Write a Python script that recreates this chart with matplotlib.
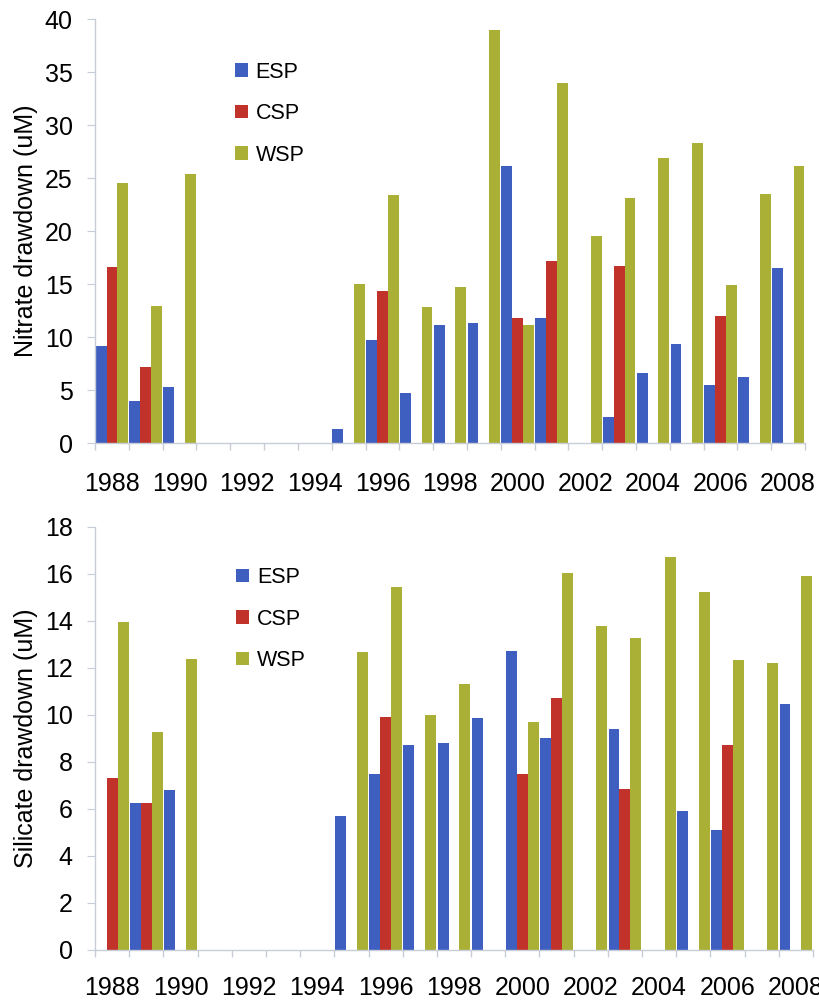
"""Nitrate and silicate drawdown by region, 1988-2008 (grouped bars)."""
import matplotlib
matplotlib.use("Agg")
import matplotlib.pyplot as plt
import numpy as np

years = list(range(1988, 2009))
series_names = ["ESP", "CSP", "WSP"]
colors = ["#3f5fc0", "#c0322a", "#aab036"]

# nan = no bar for that year
nan = np.nan
nitrate_esp = [9.2, 4.0, 5.3, nan, nan, nan, nan, 1.3, 9.7, 4.7, 11.1, 11.3,
               26.1, 11.8, nan, 2.5, 6.6, 9.3, 5.5, 6.2, 16.5]
nitrate_csp = [16.6, 7.2, nan, nan, nan, nan, nan, nan, 14.3, nan, nan, nan,
               11.8, 17.2, nan, 16.7, nan, nan, 12.0, nan, nan]
nitrate_wsp = [24.5, 12.9, 25.4, nan, nan, nan, nan, 15.0, 23.4, 12.8, 14.7, 39.0,
               11.1, 34.0, 19.5, 23.1, 26.9, 28.3, 14.9, 23.5, 26.1]

silicate_esp = [nan, 6.26, 6.8, nan, nan, nan, nan, 5.7, 7.5, 8.7, 8.8, 9.85,
                12.7, 9.0, nan, 9.4, nan, 5.9, 5.1, nan, 10.45]
silicate_csp = [7.33, 6.26, nan, nan, nan, nan, nan, nan, 9.92, nan, nan, nan,
                7.5, 10.7, nan, 6.83, nan, nan, 8.72, nan, nan]
silicate_wsp = [13.96, 9.28, 12.37, nan, nan, nan, nan, 12.68, 15.45, 10.0, 11.3, nan,
                9.71, 16.04, 13.78, 13.25, 16.72, 15.21, 12.33, 12.19, 15.9]

panels = [
    ([nitrate_esp, nitrate_csp, nitrate_wsp], "Nitrate drawdown (uM)", 40, 5,
     [0.116, 0.5596, 0.867, 0.4215], 0.945, 21),
    ([silicate_esp, silicate_csp, silicate_wsp], "Silicate drawdown (uM)", 18, 2,
     [0.116, 0.0557, 0.8767, 0.4208], 0.95, 19),
]

plt.rcParams["font.family"] = ["Liberation Sans", "DejaVu Sans"]
fig = plt.figure(figsize=(8.19, 10.06), dpi=100)

x = np.arange(len(years))
bar_w = 0.32
axis_grey = "#c8ccd6"

for data, ylabel, ymax, ystep, rect, leg_top, xpad in panels:
    ax = fig.add_axes(rect)
    for k, (vals, name, col) in enumerate(zip(data, series_names, colors)):
        ax.bar(x + (k - 1) * bar_w, vals, width=bar_w, color=col,
               label=name, linewidth=0)

    ax.set_xlim(-0.5, len(years) - 0.5)
    ax.set_ylim(0, ymax)
    ax.set_yticks(np.arange(0, ymax + 0.1, ystep))
    # labels every other year at the category centre, ticks between categories
    ax.set_xticks(x[::2])
    ax.set_xticklabels([str(y) for y in years[::2]])
    ax.set_xticks(np.arange(-0.5, len(years) - 0.4, 1), minor=True)
    ax.tick_params(axis="x", which="major", length=0, pad=xpad, labelsize=18)
    ax.tick_params(axis="x", which="minor", length=5, color=axis_grey, width=1)
    ax.tick_params(axis="y", length=6, color=axis_grey, labelsize=18, pad=10)

    for side in ("top", "right"):
        ax.spines[side].set_visible(False)
    for side in ("left", "bottom"):
        ax.spines[side].set_color(axis_grey)
        ax.spines[side].set_linewidth(1)
    ax.set_ylabel(ylabel, fontsize=18, labelpad=5)

    ax.legend(loc="upper left", bbox_to_anchor=(0.17, leg_top), frameon=False,
              fontsize=15.5, handlelength=0.6, handleheight=0.6,
              handletextpad=0.35, labelspacing=0.95)

fig.savefig("out.png", dpi=100)
